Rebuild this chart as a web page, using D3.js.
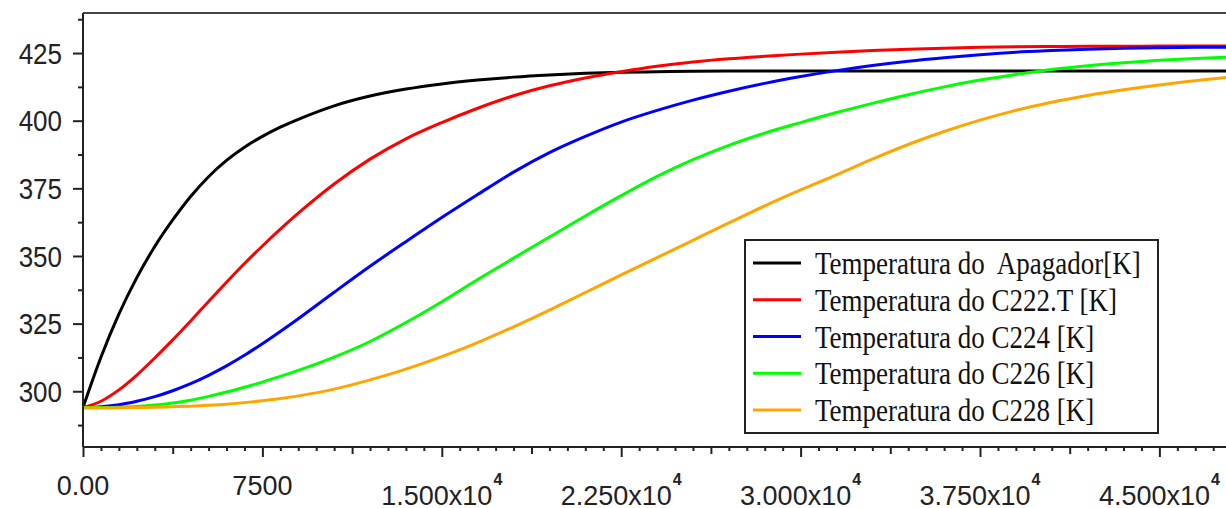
<!DOCTYPE html>
<html lang="pt">
<head>
  <meta charset="UTF-8">
  <title>Temperaturas</title>
  <script src="https://d3js.org/d3.v7.min.js"></script>
  <style>
    body { margin: 0; background: #fff; }
    svg { display: block; }
  </style>
</head>
<body>
  <svg id="chart" width="1226" height="508"></svg>
  <script>
// time samples (s) and temperatures (K)
const times = [0, 750, 1500, 2250, 3000, 3750, 4500, 5250, 6000, 6750, 7500, 8250, 9000,
  10500, 12000, 13500, 15000, 16500, 18000, 19500, 21000, 22500, 24000, 25500, 27000,
  28500, 30000, 31500, 33000, 34500, 36000, 37500, 39000, 40500, 42000, 43500, 45000, 46500, 48000];

const apagador = [294, 312.6, 328.5, 342, 353.5, 363.3, 372, 379.3, 385.3, 390.2, 394.2, 397.6, 400.5,
  405.5, 409.1, 411.7, 413.6, 415, 416.1, 416.9, 417.5, 417.9, 418.1, 418.3, 418.4,
  418.4, 418.4, 418.4, 418.4, 418.4, 418.4, 418.4, 418.4, 418.4, 418.4, 418.4, 418.4, 418.4, 418.4];

const c222 = [294, 296.3, 300.5, 306, 312.3, 319, 326, 333.2, 340.3, 347.2, 353.7, 359.9, 365.8,
  376.6, 385.8, 393.3, 399.3, 404.6, 409.2, 412.9, 415.8, 418.1, 420.1, 421.7, 422.9,
  423.8, 424.6, 425.3, 425.9, 426.4, 426.8, 427.1, 427.3, 427.4, 427.5, 427.5, 427.6, 427.6, 427.6];

const c224 = [294, 294.3, 295, 296.3, 298, 300.2, 302.8, 305.9, 309.4, 313.3, 317.6, 322.1, 326.8,
  336.6, 346.2, 355.3, 364.2, 372.7, 381, 388.2, 394.2, 399.5, 403.8, 407.6, 410.9,
  413.8, 416.3, 418.5, 420.4, 422, 423.3, 424.4, 425.3, 425.9, 426.4, 426.8, 427, 427.1, 427.2];

const c226 = [294, 294, 294.1, 294.4, 294.9, 295.7, 296.7, 298.1, 299.7, 301.5, 303.4, 305.5, 307.7,
  312.6, 318.4, 325.4, 333.1, 341.3, 349.2, 357, 364.8, 372.3, 379.4, 385.6, 390.9,
  395.4, 399.3, 403, 406.4, 409.6, 412.5, 415, 417.1, 418.9, 420.3, 421.4, 422.3, 423, 423.5];

const c228 = [293.8, 293.8, 293.9, 294, 294.1, 294.3, 294.5, 294.8, 295.2, 295.8, 296.5, 297.3, 298.3,
  300.8, 304.2, 308.2, 312.8, 318, 323.8, 330, 336.5, 343, 349.4, 355.8, 362.2,
  368.5, 374.4, 380, 385.8, 391.2, 396, 400.2, 403.8, 406.8, 409.3, 411.4, 413.2, 414.8, 416.1];

const seriesNames = ["Temperatura do  Apagador[K]", "Temperatura do C222.T [K]",
  "Temperatura do C224 [K]", "Temperatura do C226 [K]", "Temperatura do C228 [K]"];
const seriesValues = [apagador, c222, c224, c226, c228];
const seriesColors = ["#000000", "#ff0000", "#0000ff", "#00ff00", "#ffa500"];

const yTicks = [300, 325, 350, 375, 400, 425];
const xTicks = [0, 7500, 15000, 22500, 30000, 37500, 45000];
const xLabels = ["0.00", "7500", "1.500x10", "2.250x10", "3.000x10", "3.750x10", "4.500x10"];
const xExponents = ["", "", "4", "4", "4", "4", "4"];

const svg = d3.select("#chart");
const plotLeft = 83, plotTop = 13, plotBottom = 447;

const x = d3.scaleLinear().domain([0, 48000]).range([plotLeft, plotLeft + 48000 * 0.02392]);
const y = d3.scaleLinear().domain([279.4, 439.8]).range([plotBottom, plotTop]);

svg.append("defs").append("clipPath").attr("id", "plotClip")
  .append("rect").attr("x", plotLeft).attr("y", plotTop)
  .attr("width", 1226 - plotLeft).attr("height", plotBottom - plotTop);

// curves
const line = d3.line()
  .x((d, i) => x(times[i]))
  .y(d => y(d))
  .curve(d3.curveMonotoneX);

svg.append("g").attr("clip-path", "url(#plotClip)")
  .selectAll("path")
  .data(seriesValues)
  .enter()
  .append("path")
  .attr("d", d => line(d))
  .attr("fill", "none")
  .attr("stroke", (d, i) => seriesColors[i])
  .attr("stroke-width", 3);

// frame
svg.append("line").attr("x1", plotLeft).attr("x2", 1226).attr("y1", plotTop).attr("y2", plotTop)
  .attr("stroke", "#444").attr("stroke-width", 2);

// y axis
const yAxis = svg.append("g").attr("transform", `translate(${plotLeft},0)`)
  .call(d3.axisLeft(y).tickValues(d3.range(287.5, 440, 12.5)).tickSize(5).tickFormat(""));
yAxis.selectAll(".tick line")
  .attr("x2", d => (d % 25 === 0 ? -10 : -5));
yAxis.select(".domain").attr("d", `M0,${plotTop}V${plotBottom}`);
yAxis.selectAll("line, path").attr("stroke", "#222").attr("stroke-width", 2);

svg.append("g").selectAll("text")
  .data(yTicks)
  .enter()
  .append("text")
  .attr("transform", d => `translate(62,${y(d)}) scale(1,1.15)`)
  .attr("dy", "0.36em")
  .attr("text-anchor", "end")
  .attr("font-family", "Liberation Sans, Arial, sans-serif")
  .attr("font-size", "26px")
  .attr("fill", "#222")
  .text(d => d);

// x axis
const minorX = d3.range(0, 48001, 750);
const xAxis = svg.append("g").attr("transform", `translate(0,${plotBottom})`)
  .call(d3.axisBottom(x).tickValues(minorX).tickSize(4).tickFormat(""));
xAxis.selectAll(".tick line")
  .attr("y2", d => (d % 7500 === 0 ? 10 : d % 3750 === 0 ? 7 : 4));
xAxis.select(".domain").attr("d", `M${plotLeft},0H1226`);
xAxis.selectAll("line, path").attr("stroke", "#222").attr("stroke-width", 2);

const xLab = svg.append("g").selectAll("g")
  .data(xTicks)
  .enter()
  .append("g");

xLab.each(function(d, i) {
  const g = d3.select(this);
  const hasExp = xExponents[i] !== "";
  const base = g.append("text")
    .attr("y", hasExp ? 505 : 495)
    .attr("font-family", "Liberation Sans, Arial, sans-serif")
    .attr("font-size", "27px")
    .attr("fill", "#222")
    .text(xLabels[i]);
  const w = base.node().getComputedTextLength();
  let total = w;
  let sup = null;
  if (hasExp) {
    sup = g.append("text")
      .attr("y", 485)
      .attr("font-family", "Liberation Sans, Arial, sans-serif")
      .attr("font-size", "16px")
      .attr("font-weight", "bold")
      .attr("fill", "#222")
      .text(xExponents[i]);
    total += sup.node().getComputedTextLength() + 1;
  }
  const start = x(d) - total / 2;
  base.attr("x", start);
  if (sup) sup.attr("x", start + w + 1);
});

// legend
const legend = svg.append("g");
legend.append("rect")
  .attr("x", 745).attr("y", 240).attr("width", 413).attr("height", 193)
  .attr("fill", "#fff").attr("stroke", "#222").attr("stroke-width", 2);

const rowY = d3.scalePoint().domain(d3.range(seriesNames.length)).range([263, 410]);

const rows = legend.selectAll("g.row")
  .data(seriesNames)
  .enter()
  .append("g")
  .attr("class", "row")
  .attr("transform", (d, i) => `translate(0,${rowY(i)})`);

rows.append("line")
  .attr("x1", 753).attr("x2", 801)
  .attr("stroke", (d, i) => seriesColors[i])
  .attr("stroke-width", 3);

rows.append("text")
  .attr("transform", "translate(815,11) scale(1,1.2)")
  .attr("font-family", "Liberation Serif, Times New Roman, serif")
  .attr("font-size", "27px")
  .attr("fill", "#111")
  .style("white-space", "pre")
  .text(d => d);
  </script>
</body>
</html>
